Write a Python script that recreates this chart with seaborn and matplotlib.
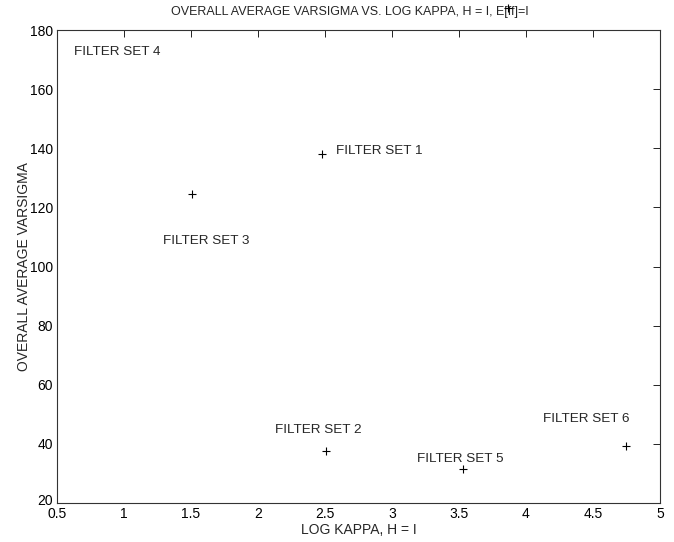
import pandas as pd
import matplotlib.pyplot as plt
import matplotlib.transforms as mtransforms
import seaborn as sns

# values
log_kappa = [2.48, 1.51, 2.51, 3.53, 4.75]
varsigma = [138.2, 124.5, 37.6, 31.5, 39.3]
labels = ["FILTER SET 1", "FILTER SET 3", "FILTER SET 2", "FILTER SET 5", "FILTER SET 6"]
label_x = [2.58, 1.29, 2.13, 3.19, 4.13]
label_y = [139.0, 108.6, 44.7, 34.9, 48.4]

# point sitting above the axes (drawn over the title)
extra_x = [3.87]
extra_y = [187.4]
fs4_label = "FILTER SET 4"
fs4_x, fs4_y = 0.63, 172.6

df = pd.DataFrame({"log_kappa": log_kappa, "varsigma": varsigma})

sns.set_style("white")
plt.rcParams["font.family"] = ["Liberation Sans", "DejaVu Sans"]
plt.rcParams["font.size"] = 10

fig = plt.figure(figsize=(6.74, 5.42), dpi=100)
ax = fig.add_axes([0.0846, 0.072, 0.8944, 0.8726])

sns.scatterplot(x="log_kappa", y="varsigma", data=df, marker="+", color="black",
                s=35, linewidth=0.8, ax=ax)
ax.scatter(extra_x, extra_y, marker="+", color="black", s=35, linewidth=0.8,
           clip_on=False, zorder=5)

for t, x, y in zip(labels, label_x, label_y):
    ax.text(x, y, t, fontsize=9.7, va="center", ha="left")
ax.text(fs4_x, fs4_y, fs4_label, fontsize=9.7, va="center", ha="left")

ax.set_xlim(0.5, 5)
ax.set_ylim(20, 180)
ax.set_xticks([0.5, 1, 1.5, 2, 2.5, 3, 3.5, 4, 4.5, 5])
ax.set_xticklabels(["0.5", "1", "1.5", "2", "2.5", "3", "3.5", "4", "4.5", "5"])
ax.set_yticks(range(20, 181, 20))
ax.tick_params(direction="in", top=True, right=True, length=5, width=0.6,
               labelsize=10, colors="black", pad=3)
# lift the bottom y label a couple of pixels, as in the reference
lbl = ax.get_yticklabels()[0]
lbl.set_transform(lbl.get_transform() + mtransforms.ScaledTranslation(0, 3 / 100, fig.dpi_scale_trans))
for sp in ax.spines.values():
    sp.set_color("#333333")
    sp.set_linewidth(0.8)

ax.set_xlabel("LOG KAPPA, H = I", fontsize=10, labelpad=1)
ax.set_ylabel("OVERALL AVERAGE VARSIGMA", fontsize=10, labelpad=-1)
ax.set_title("OVERALL AVERAGE VARSIGMA VS. LOG KAPPA, H = I, E[ff]=I",
             fontsize=9, pad=11, x=0.485)

fig.savefig("out.png", dpi=100)
